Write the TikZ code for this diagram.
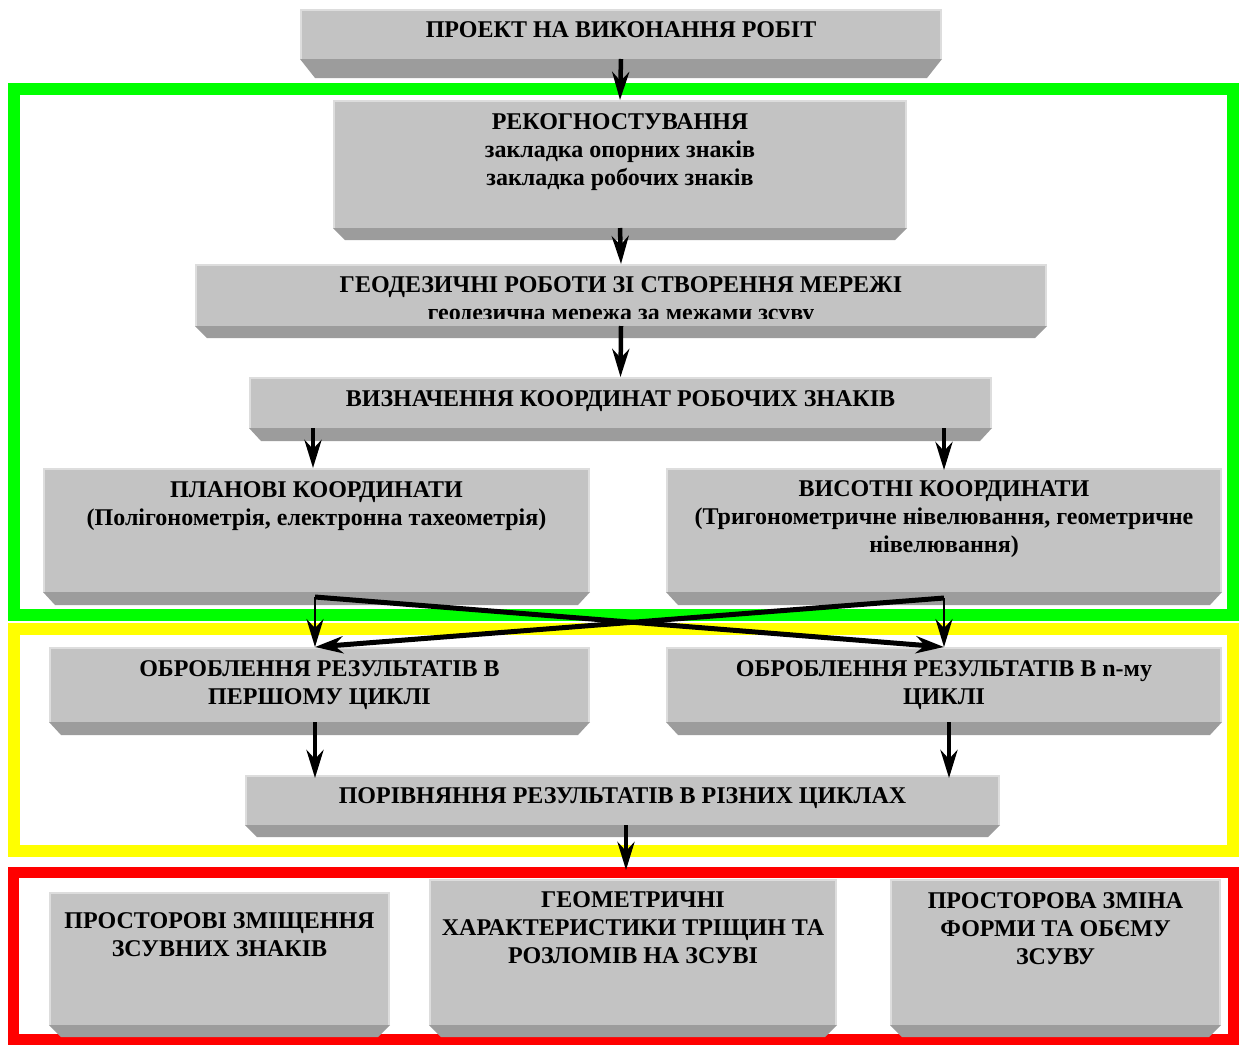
\documentclass[tikz,border=0pt]{standalone}
\usepackage{fontspec}
\setmainfont{Liberation Serif}
\usetikzlibrary{calc,arrows.meta}
\definecolor{facec}{HTML}{C3C3C3}
\definecolor{bevelc}{HTML}{9C9C9C}
\definecolor{hlc}{HTML}{DDDDDD}
\definecolor{gframe}{HTML}{00FF00}
\definecolor{yframe}{HTML}{FFFF00}
\definecolor{rframe}{HTML}{FF0000}
\tikzset{
  face/.style={rectangle, fill=facec, draw=none, inner sep=0pt, outer sep=0pt},
  bevelfill/.style={fill=bevelc},
  hl/.style={draw=hlc, line width=2pt},
  txt/.style={align=center, inner sep=0pt, outer sep=0pt, anchor=north,
    font=\fontsize{24}{28}\selectfont\bfseries},
  frame/.style={line width=12pt},
  bigarrow/.style={line width=4.5pt, -{Stealth[length=28pt,width=17pt,inset=9pt]}},
  thinarrow/.style={line width=2.5pt, -{Stealth[length=28pt,width=17pt,inset=9pt]}},
  crossarrow/.style={line width=5pt, -{Stealth[length=28pt,width=17pt,inset=9pt]}},
}
% name, x1, y1, x2, yface, bevel height, bevel inset
\newcommand{\gbox}[7]{%
  \node[face, anchor=north west, minimum width={(#4-#2)*1pt}, minimum height={(#5-#3)*1pt}] (#1) at (#2,#3) {};
  \fill[bevelfill] (#1.south west) -- (#1.south east) -- ++(-#7,#6) -- ($(#1.south west)+(#7,#6)$) -- cycle;
  \draw[hl] ($(#1.south west)+(1,0)$) -- ($(#1.north west)+(1,1)$) -- ($(#1.north east)+(-1,1)$) -- ($(#1.south east)+(-1,0)$);
}
\begin{document}
\begin{tikzpicture}[x=1pt,y=-1pt]
\useasboundingbox (0,0) rectangle (1239,1045);
\fill[white] (0,0) rectangle (1239,1045);
% frames
\draw[frame, draw=gframe] (13.5,89) rectangle (1233,614.5);
\draw[frame, draw=yframe] (13.5,629) rectangle (1233,851);
\draw[frame, draw=rframe, line width=11pt] (13.5,872) rectangle (1233.5,1039.5);
% boxes
\gbox{b1}{300}{9}{942}{59}{19}{15}
\gbox{b2}{333}{100}{907}{228}{12}{12}
\gbox{b3}{195}{264}{1047}{326}{12}{12}
\gbox{b4}{249}{377}{992}{428}{13}{12}
\gbox{b5}{43}{468}{590}{592}{13}{12}
\gbox{b6}{666}{468}{1222}{592}{13}{12}
\gbox{b7}{49}{647}{590}{722}{13}{12}
\gbox{b8}{666}{647}{1222}{722}{13}{12}
\gbox{b9}{245}{775}{1000}{825}{12}{12}
\gbox{b10}{49}{892}{390}{1025}{12}{12}
\gbox{b11}{429}{879}{837}{1025}{12}{12}
\gbox{b12}{890}{879}{1221}{1025}{12}{12}
% texts
\node[txt] (t1) at ($(b1.north)+(0,13)$) {ПРОЕКТ НА ВИКОНАННЯ РОБІТ};
\node[txt] (t2) at ($(b2.north)+(0,14)$) {РЕКОГНОСТУВАННЯ\\закладка опорних знаків\\закладка робочих знаків};
\begin{scope}
\clip ($(b3.north west)$) rectangle ($(b3.south east)+(0,-8)$);
\node[txt] (t3) at ($(b3.north)+(0,13)$) {ГЕОДЕЗИЧНІ РОБОТИ ЗІ СТВОРЕННЯ МЕРЕЖІ\\геодезична мережа за межами зсуву};
\end{scope}
\node[txt] (t4) at ($(b4.north)+(0,14)$) {ВИЗНАЧЕННЯ КООРДИНАТ РОБОЧИХ ЗНАКІВ};
\node[txt] (t5) at ($(b5.north)+(0,14)$) {ПЛАНОВІ КООРДИНАТИ\\(Полігонометрія, електронна тахеометрія)};
\node[txt] (t6) at ($(b6.north)+(0,13)$) {ВИСОТНІ КООРДИНАТИ\\(Тригонометричне нівелювання, геометричне\\нівелювання)};
\node[txt] (t7) at ($(b7.north)+(0,14)$) {ОБРОБЛЕННЯ РЕЗУЛЬТАТІВ В\\ПЕРШОМУ ЦИКЛІ};
\node[txt] (t8) at ($(b8.north)+(0,14)$) {ОБРОБЛЕННЯ РЕЗУЛЬТАТІВ В n-му\\ЦИКЛІ};
\node[txt] (t9) at ($(b9.north)+(0,13)$) {ПОРІВНЯННЯ РЕЗУЛЬТАТІВ В РІЗНИХ ЦИКЛАХ};
\node[txt] (t10) at ($(b10.north)+(0,21)$) {ПРОСТОРОВІ ЗМІЩЕННЯ\\ЗСУВНИХ ЗНАКІВ};
\node[txt] (t11) at ($(b11.north)+(0,13)$) {ГЕОМЕТРИЧНІ\\ХАРАКТЕРИСТИКИ ТРІЩИН ТА\\РОЗЛОМІВ НА ЗСУВІ};
\node[txt] (t12) at ($(b12.north)+(0,14)$) {ПРОСТОРОВА ЗМІНА\\ФОРМИ ТА ОБЄМУ\\ЗСУВУ};
% coordinates for connectors
\coordinate (A) at ($(b5.south)+(-1.5,5)$);
\coordinate (C) at ($(b6.south)+(0,6)$);
\coordinate (L4) at ($(b4.south)+(-307.5,0)$);
\coordinate (R4) at ($(b4.south)+(323.5,0)$);
\coordinate (L7) at ($(b7.south)+(-4.5,0)$);
\coordinate (R8) at ($(b8.south)+(5,0)$);
\coordinate (M9) at ($(b9.south)+(3.5,0)$);
% arrows
\draw[bigarrow] (b1.south) -- (b2.north);
\draw[bigarrow] (b2.south) -- (b3.north);
\draw[bigarrow] (b3.south) -- (b4.north);
\draw[bigarrow] (L4) -- (L4 |- b5.north);
\draw[bigarrow] (R4) -- ($(R4 |- b6.north)+(0,2)$);
\draw[thinarrow] (A) -- (A |- b7.north);
\draw[thinarrow] (C) -- (C |- b8.north);
\draw[crossarrow] (A) -- (C |- b8.north);
\draw[crossarrow] (C) -- (A |- b7.north);
\draw[bigarrow] (L7) -- ($(L7 |- b9.north)+(0,3)$);
\draw[bigarrow] (R8) -- ($(R8 |- b9.north)+(0,3)$);
\draw[bigarrow, shorten >=9pt] (M9) -- (M9 |- b11.north);
\end{tikzpicture}
\end{document}
